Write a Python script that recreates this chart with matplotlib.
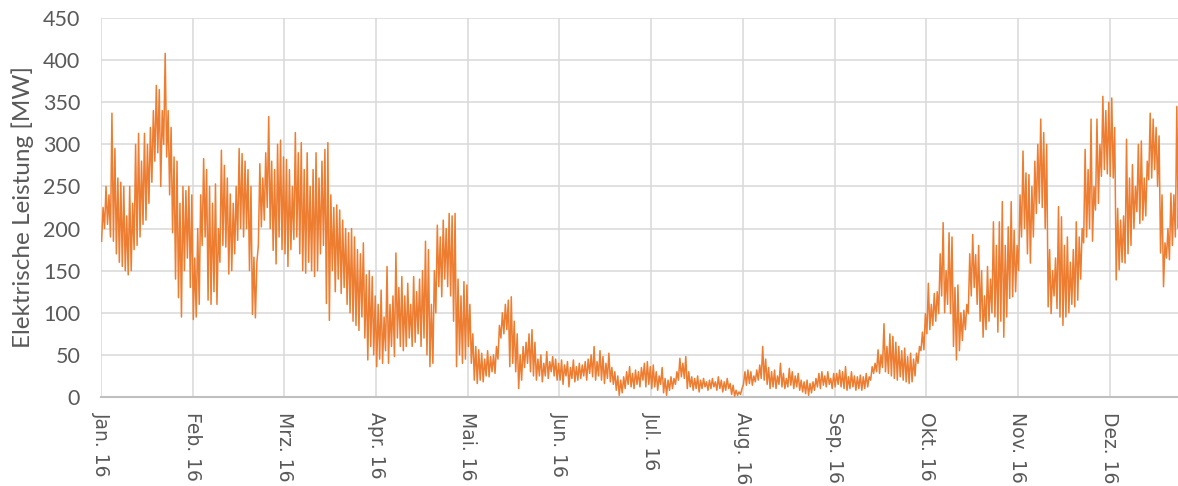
import numpy as np
import matplotlib.pyplot as plt

# daily minimum / maximum of the electric power [MW],
# grouped in blocks of 31 days (one block per axis label)
low_blocks = [
    [185, 200, 205, 190, 185, 170, 160, 155, 150, 145, 150, 175, 180, 190, 205, 210,
     230, 255, 280, 290, 250, 300, 285, 240, 195, 140, 118, 95, 150, 165, 130],
    [92, 95, 110, 180, 190, 115, 110, 125, 110, 160, 180, 178, 146, 150, 170, 186,
     200, 190, 200, 150, 98, 94, 180, 202, 210, 225, 200, 174, 158, 190, 175],
    [170, 155, 175, 187, 190, 170, 150, 147, 160, 150, 143, 150, 170, 180, 111, 91,
     150, 125, 140, 123, 130, 110, 100, 90, 85, 79, 95, 70, 44, 60, 50],
    [36, 45, 40, 55, 40, 60, 48, 70, 60, 55, 60, 70, 60, 65, 75, 60,
     70, 50, 36, 40, 100, 131, 119, 140, 131, 120, 90, 36, 50, 40, 45],
    [60, 40, 20, 16, 20, 18, 25, 24, 30, 28, 45, 70, 75, 80, 36, 40,
     30, 10, 20, 35, 40, 30, 25, 20, 25, 18, 25, 22, 30, 25, 20],
    [20, 15, 25, 12, 22, 18, 20, 22, 25, 20, 28, 24, 20, 25, 20, 16,
     22, 18, 15, 8, 2, 5, 10, 15, 12, 10, 15, 12, 20, 12, 15],
    [10, 12, 8, 15, 5, 2, 8, 10, 15, 20, 24, 22, 10, 12, 8, 10,
     6, 10, 12, 8, 10, 12, 8, 10, 6, 8, 10, 3, 1, 2, 3],
    [15, 14, 16, 14, 18, 20, 22, 20, 15, 10, 12, 10, 15, 12, 10, 12,
     14, 10, 12, 8, 6, 4, 2, 5, 8, 12, 10, 14, 12, 15, 10],
    [12, 15, 12, 10, 8, 10, 12, 8, 10, 8, 10, 12, 20, 28, 30, 28,
     35, 30, 28, 25, 22, 20, 24, 20, 18, 16, 18, 25, 40, 55, 56],
    [75, 80, 85, 90, 99, 120, 100, 110, 99, 60, 44, 55, 67, 80, 99, 120,
     130, 110, 90, 71, 80, 90, 100, 95, 77, 90, 71, 95, 117, 119, 125],
    [150, 190, 200, 170, 159, 190, 218, 230, 225, 200, 107, 99, 120, 105, 95, 85,
     95, 100, 110, 107, 115, 140, 183, 190, 200, 185, 222, 230, 262, 270, 265],
    [262, 260, 139, 151, 160, 159, 170, 180, 200, 220, 206, 210, 215, 258, 260, 270,
     250, 171, 131, 165, 163, 180, 190, 200, 190],
]
high_blocks = [
    [225, 250, 240, 337, 295, 260, 255, 250, 215, 250, 230, 300, 313, 280, 313, 300,
     320, 340, 370, 365, 340, 408, 340, 320, 285, 280, 230, 250, 245, 250, 240],
    [165, 200, 240, 283, 270, 250, 230, 253, 200, 293, 275, 260, 241, 230, 250, 295,
     289, 280, 270, 250, 166, 160, 277, 260, 290, 333, 280, 270, 300, 305, 285],
    [282, 270, 250, 314, 290, 302, 270, 290, 250, 270, 290, 260, 280, 294, 302, 240,
     225, 228, 222, 210, 200, 195, 200, 190, 175, 170, 183, 145, 150, 143, 120],
    [110, 127, 95, 155, 110, 120, 171, 130, 143, 120, 135, 110, 143, 125, 140, 150,
     185, 175, 110, 150, 204, 190, 210, 200, 218, 215, 218, 140, 120, 137, 133],
    [110, 75, 60, 56, 52, 45, 55, 48, 50, 60, 85, 100, 110, 115, 119, 90,
     75, 50, 60, 65, 75, 80, 65, 45, 50, 40, 54, 42, 48, 45, 40],
    [44, 38, 42, 35, 44, 36, 40, 38, 42, 45, 50, 60, 42, 55, 48, 40,
     52, 35, 30, 25, 20, 24, 30, 36, 28, 32, 30, 35, 40, 42, 36],
    [38, 30, 25, 35, 22, 20, 24, 22, 30, 46, 40, 48, 30, 24, 22, 25,
     20, 22, 18, 20, 22, 18, 24, 20, 18, 22, 16, 14, 8, 6, 10],
    [30, 32, 30, 25, 32, 38, 60, 45, 35, 30, 32, 25, 40, 28, 22, 34,
     30, 25, 28, 20, 18, 20, 16, 18, 22, 28, 30, 25, 30, 22, 28],
    [28, 32, 30, 36, 24, 30, 25, 24, 26, 24, 28, 24, 36, 40, 56, 50,
     87, 60, 75, 72, 65, 60, 55, 58, 48, 52, 45, 52, 60, 77, 99],
    [135, 110, 123, 125, 170, 207, 150, 195, 190, 130, 133, 100, 103, 110, 170, 193,
     169, 180, 150, 120, 155, 140, 208, 180, 208, 232, 180, 202, 232, 198, 180],
    [240, 292, 266, 264, 250, 280, 300, 330, 314, 300, 175, 150, 165, 226, 214, 180,
     190, 160, 175, 208, 190, 200, 294, 270, 330, 250, 330, 300, 357, 340, 350],
    [355, 320, 224, 210, 215, 306, 260, 276, 250, 300, 304, 260, 280, 337, 330, 320,
     310, 240, 183, 200, 242, 240, 345, 300, 300],
]
tick_labels = ['Jan. 16', 'Feb. 16', 'Mrz. 16', 'Apr. 16', 'Mai. 16', 'Jun. 16',
               'Jul. 16', 'Aug. 16', 'Sep. 16', 'Okt. 16', 'Nov. 16', 'Dez. 16']

daily_low = np.concatenate(low_blocks)
daily_high = np.concatenate(high_blocks)
n = min(len(daily_low), len(daily_high))
days = np.arange(n)

# night minimum and afternoon maximum for each day
x = np.column_stack([days + 0.2, days + 0.7]).ravel()
y = np.column_stack([daily_low[:n], daily_high[:n]]).ravel()

fig = plt.figure(figsize=(11.78, 4.86), dpi=100)
ax = fig.add_axes([101 / 1178, 89 / 486, 1077 / 1178, 379 / 486])

ax.plot(x, y, color='#ED7D31', lw=1.1, zorder=3)

ax.set_xlim(0, 1077 / 2.958)
ax.set_ylim(0, 450)
ax.set_yticks(range(0, 451, 50))
ax.set_xticks(np.arange(len(tick_labels)) * 31)
ax.set_xticklabels(tick_labels, rotation=270, fontsize=13.5, color='#595959',
                   family='DejaVu Sans', va='top', ha='center')
for lab in ax.get_yticklabels():
    lab.set_fontfamily('Lato')
    lab.set_fontsize(15.5)
    lab.set_color('#595959')

ax.grid(True, color='#d9d9d9', lw=1.1, zorder=0)
ax.set_axisbelow(True)
for s in ['top', 'right', 'left']:
    ax.spines[s].set_visible(False)
ax.spines['bottom'].set_color('#bfbfbf')
ax.spines['bottom'].set_linewidth(1.5)
ax.tick_params(axis='both', length=0)
ax.tick_params(axis='y', pad=15)
ax.tick_params(axis='x', pad=11)

ax.set_ylabel('Elektrische Leistung [MW]', fontsize=17.5, color='#595959', family='Lato')
ax.yaxis.set_label_coords(-0.062, 0.5)

fig.savefig('out.png', dpi=100)
